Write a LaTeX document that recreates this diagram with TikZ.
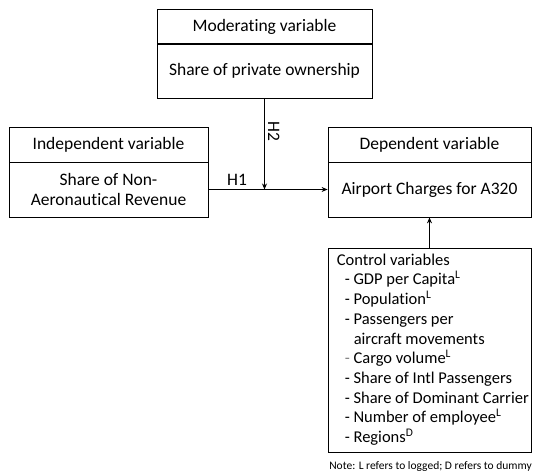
\documentclass[tikz,border=0pt]{standalone}
\usepackage{fontspec}
\setmainfont{Carlito}[Ligatures=NoCommon]
\usetikzlibrary{arrows.meta}

\begin{document}
\begin{tikzpicture}[x=1pt,y=1pt,
  >={Stealth[length=6pt,width=5pt]},
  font=\fontsize{17.5}{19.7}\selectfont,
  hd/.style={rectangle,draw,line width=0.8pt,minimum width=#1,minimum height=35pt,
             inner sep=0pt,align=center},
  bd/.style={rectangle,draw,line width=0.8pt,minimum width=#1,minimum height=55pt,
             inner sep=0pt,align=center},
  arr/.style={->,line width=1.2pt},
]
  \useasboundingbox (0,0) rectangle (533,473);

  % moderating variable (top)
  \node[hd=215pt] (modhead) at (264.5,446.5) {Moderating variable};
  \node[bd=215pt] (modbody) at (264.5,402.5) {Share of private ownership};
  % independent variable (left)
  \node[hd=199pt] (indhead) at (108.5,328.5) {Independent variable};
  \node[bd=199pt] (indbody) at (108.5,283.5) {Share of Non-\\Aeronautical Revenue};
  % dependent variable (right)
  \node[hd=203pt] (dephead) at (429.5,328.5) {Dependent variable};
  \node[bd=203pt] (depbody) at (429.5,283.5) {Airport Charges for A320};
  % controls
  \node[rectangle,draw,line width=0.8pt,minimum width=203pt,minimum height=204pt,
        inner sep=0pt] (ctrl) at (429.5,123) {};
  \node[anchor=north west,align=left,inner sep=0pt,font=\fontsize{16.5}{19.7}\selectfont]
    (ctrltxt) at ([xshift=9pt,yshift=-6pt]ctrl.north west) {%
    Control variables\\
    \hspace*{8pt}- GDP per Capita\textsuperscript{L}\\
    \hspace*{8pt}- Population\textsuperscript{L}\\
    \hspace*{8pt}- Passengers per\\
    \hspace*{17pt}aircraft movements\\
    \hspace*{8pt}\textcolor{gray}{-} Cargo volume\textsuperscript{L}\\
    \hspace*{8pt}- Share of Intl Passengers\\
    \hspace*{8pt}- Share of Dominant Carrier\\
    \hspace*{8pt}- Number of employee\textsuperscript{L}\\
    \hspace*{8pt}- Regions\textsuperscript{D}};
  \node[anchor=east,font=\fontsize{11.5}{13}\selectfont,inner sep=0pt] (note)
    at (532,6) {Note: L refers to logged; D refers to dummy};

  % paths
  \coordinate (join) at (modbody.south |- depbody.west);
  \draw[arr] (indbody) -- node[above,pos=0.24]{H1} (depbody);
  \draw[arr] (modbody) -- node[rotate=-90,anchor=south,pos=0.36,inner sep=3pt]{H2} (join);
  \draw[arr] (ctrl) -- (depbody);
\end{tikzpicture}
\end{document}
